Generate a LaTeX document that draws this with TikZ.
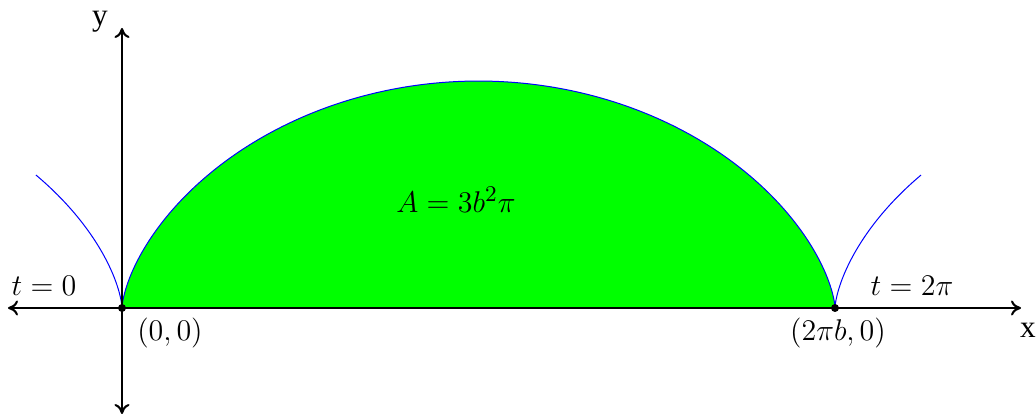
\documentclass[tikz,border=0pt]{standalone}
\usepackage[no-math]{fontspec}
\setmainfont{Liberation Serif}
\usetikzlibrary{arrows.meta}
\begin{document}
\begin{tikzpicture}[x=0.4pt,y=-0.4pt,
  axis/.style={line width=0.8pt,-{To[length=4pt,width=6pt]}},
  cyc/.style={blue,line width=0.4pt},
  dot/.style={circle,fill=black,inner sep=0pt,minimum size=3.2pt},
  lbl/.style={inner sep=0pt,font=\fontsize{12.5}{15}\selectfont},
  axl/.style={inner sep=0pt,font=\fontsize{12.5}{15}\selectfont}]
\definecolor{puregreen}{RGB}{0,255,0}
\useasboundingbox (0,0) rectangle (1036,417);
\def\b{113.48}
\fill[puregreen] plot[domain=0:6.2832,samples=200,smooth] ({122+\b*(\x-sin(\x r))},{308-\b*(1-cos(\x r))}) -- cycle;
\draw[cyc] plot[domain=0:6.2832,samples=200,smooth] ({122+\b*(\x-sin(\x r))},{308-\b*(1-cos(\x r))});
\draw[cyc] plot[domain=-1.744:0,samples=80,smooth] ({122+\b*(\x-sin(\x r))},{308-\b*(1-cos(\x r))});
\draw[cyc] plot[domain=6.2832:8.0272,samples=80,smooth] ({122+\b*(\x-sin(\x r))},{308-\b*(1-cos(\x r))});
\node[dot] (o) at (122,308) {};
\node[dot] (p) at (835,308) {};
\coordinate (xl) at (8,308);
\coordinate (xr) at (1021,308);
\coordinate (yt) at (122,28);
\coordinate (yb) at (122,414);
\draw[axis] (o.center) -- (xl);
\draw[axis] (o.center) -- (xr);
\draw[axis] (o.center) -- (yt);
\draw[axis] (o.center) -- (yb);
\node[axl] (ylab) at (100,22) {y};
\node[axl] (xlab) at (1028,330) {x};
\node[lbl] (t0) at (44,286) {$t=0$};
\node[lbl] (t2) at (912,286) {$t=2\pi$};
\node[lbl] (oo) at (170,333) {$(0,0)$};
\node[lbl] (pp) at (838,333) {$(2\pi b,0)$};
\node[lbl] (A) at (456,200) {$A=3b^2\pi$};
\end{tikzpicture}
\end{document}
